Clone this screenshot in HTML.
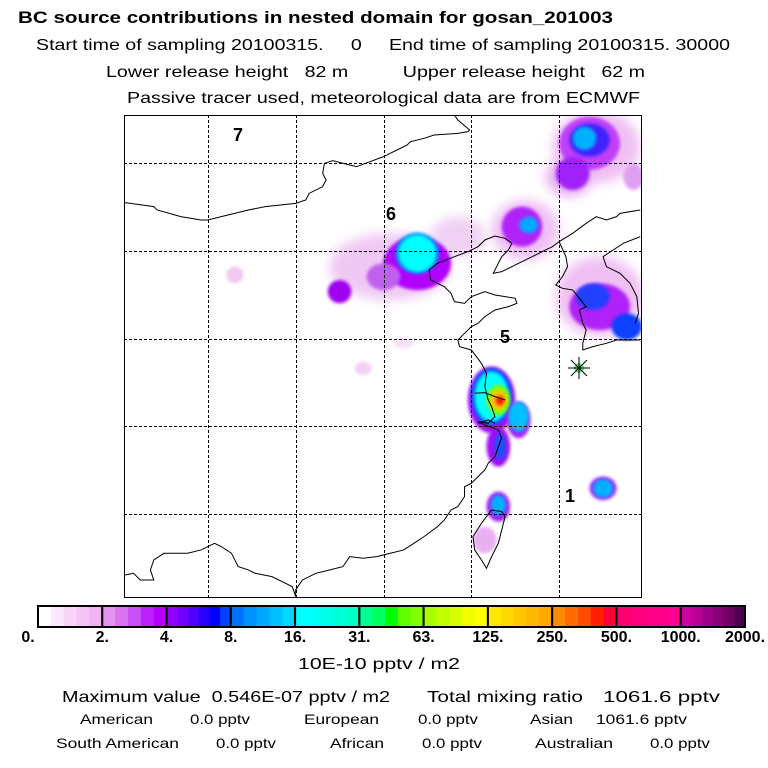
<!DOCTYPE html>
<html><head><meta charset="utf-8"><style>
html,body{margin:0;padding:0;background:#fff}
svg{display:block}
text{font-family:"Liberation Sans",sans-serif;fill:#000}
</style></head><body>
<svg width="768" height="768" viewBox="0 0 768 768" xmlns="http://www.w3.org/2000/svg">
<defs>
<filter id="b1" x="-50%" y="-50%" width="200%" height="200%"><feGaussianBlur stdDeviation="16"/></filter>
<filter id="b2" x="-50%" y="-50%" width="200%" height="200%"><feGaussianBlur stdDeviation="5"/></filter>
<clipPath id="mapclip"><rect x="124" y="115" width="517" height="482"/></clipPath>
</defs>
<g>
<text x="18" y="23" font-size="17" font-weight="bold" textLength="595" lengthAdjust="spacingAndGlyphs">BC  source contributions in nested domain for gosan_201003</text>
<text x="36" y="50" font-size="16" textLength="694" lengthAdjust="spacingAndGlyphs" xml:space="preserve">Start time of sampling 20100315.     0     End time of sampling 20100315. 30000</text>
<text x="106" y="77" font-size="16" textLength="539" lengthAdjust="spacingAndGlyphs" xml:space="preserve">Lower release height   82 m          Upper release height   62 m</text>
<text x="127" y="103" font-size="16" textLength="513" lengthAdjust="spacingAndGlyphs">Passive tracer used, meteorological data are from ECMWF</text>
</g>
<g id="map" clip-path="url(#mapclip)">
<g id="plumes" transform="translate(120,110) scale(0.3378,0.3333)"></g>
<g id="coast" transform="translate(120,110) scale(0.3378,0.3333)" fill="none" stroke="#000" stroke-width="3"></g>
<g id="grid" stroke="#000" stroke-width="1" stroke-dasharray="3,2"></g>
</g>
<rect x="124.5" y="115.5" width="517" height="482" fill="none" stroke="#000" stroke-width="1"/>
<g font-weight="bold" font-size="18">
<text x="233" y="141">7</text>
<text x="386" y="220">6</text>
<text x="500" y="343">5</text>
<text x="565" y="502">1</text>
</g>
<g transform="translate(579,368)" stroke="#000" stroke-width="1">
<path d="M-6,0L0,-6L6,0L0,6Z" fill="#40e080" stroke="none"/>
<path d="M-3.5,0L0,-3.5L3.5,0L0,3.5Z" fill="#c0ff00" stroke="none"/>
<line x1="-11" y1="0" x2="11" y2="0"/><line x1="0" y1="-11" x2="0" y2="11"/>
<line x1="-8" y1="-8" x2="8" y2="8"/><line x1="-8" y1="8" x2="8" y2="-8"/>
</g>
<g id="colorbar"></g>
<g id="cblabels" font-size="16" font-weight="bold" text-anchor="middle"></g>
<g>
<text x="298" y="669" font-size="16" textLength="162" lengthAdjust="spacingAndGlyphs">10E-10 pptv / m2</text>
<text x="62" y="702" font-size="16" textLength="328" lengthAdjust="spacingAndGlyphs" xml:space="preserve">Maximum value  0.546E-07 pptv / m2</text>
<text x="427" y="702" font-size="16" textLength="156" lengthAdjust="spacingAndGlyphs">Total mixing ratio</text>
<text x="603" y="702" font-size="16" textLength="117" lengthAdjust="spacingAndGlyphs">1061.6 pptv</text>
<g font-size="14">
<text x="80" y="724" textLength="73" lengthAdjust="spacingAndGlyphs">American</text>
<text x="190" y="724" textLength="60" lengthAdjust="spacingAndGlyphs">0.0 pptv</text>
<text x="304" y="724" textLength="75" lengthAdjust="spacingAndGlyphs">European</text>
<text x="418" y="724" textLength="60" lengthAdjust="spacingAndGlyphs">0.0 pptv</text>
<text x="530" y="724" textLength="43" lengthAdjust="spacingAndGlyphs">Asian</text>
<text x="596" y="724" textLength="91" lengthAdjust="spacingAndGlyphs">1061.6 pptv</text>
<text x="56" y="748" textLength="123" lengthAdjust="spacingAndGlyphs">South American</text>
<text x="216" y="748" textLength="60" lengthAdjust="spacingAndGlyphs">0.0 pptv</text>
<text x="330" y="748" textLength="54" lengthAdjust="spacingAndGlyphs">African</text>
<text x="422" y="748" textLength="60" lengthAdjust="spacingAndGlyphs">0.0 pptv</text>
<text x="535" y="748" textLength="78" lengthAdjust="spacingAndGlyphs">Australian</text>
<text x="650" y="748" textLength="60" lengthAdjust="spacingAndGlyphs">0.0 pptv</text>
</g>
</g>
</svg>
<script>
const NS="http://www.w3.org/2000/svg";
const tickLabels=["0.","2.","4.","8.","16.","31.","63.","125.","250.","500.","1000.","2000."];
const segmentColors=[
["#ffffff","#fce8fc","#f8d6f8","#f4c4f4","#efb4ef"],
["#e294ee","#d674f2","#c850f6","#bc20fc","#b400ff"],
["#9000ff","#7000ff","#5000ff","#2800ff","#0000ff","#0040ff"],
["#0070ff","#0090ff","#00a8ff","#00c0ff","#00d8ff"],
["#00ffff","#00fff4","#00ffe4","#00ffd4","#00ffc4"],
["#00ff90","#00ff60","#00ff00","#60ff00","#80ff00"],
["#a8ff00","#c0ff00","#d8ff00","#f0ff00","#ffff00"],
["#ffe800","#ffd800","#ffc800","#ffb800","#ffa800"],
["#ff8c00","#ff6c00","#ff4c00","#ff2000","#ff0038"],
["#ff0070","#ff0080","#ff0088","#ff0090"],
["#d000a0","#b80098","#a00088","#880078","#700064","#500050"]];
const gridX=[208,296,384,471,559];
const gridY=[163,251,339,426,514];
// plume blobs in map (zoom) coords
const plumeX=[1410,1330,1520,1390,1340,1390,1375, 800,1000,880,880,880,650,780,340, 1200,1190,1210, 1420,1420,1400,1500, 1100,1100,1100,1120,1120,1125,1180,1180,1120,1125, 1120,1120,1080, 1430,1430, 720,840];
const plumeY=[110,200,200,100,190,90,85, 470,380,460,430,430,545,500,495, 360,350,345, 560,590,560,650, 870,860,860,870,870,872,930,920,1010,1010, 1190,1185,1290, 1135,1135, 775,700];
const plumeRX=[130,70,30,90,50,60,35, 180,80,100,65,55,35,50,25, 100,60,28, 130,90,50,45, 70,60,50,35,25,12,35,30,35,18, 35,22,35, 40,30, 25,30];
const plumeRY=[110,60,40,80,50,50,35, 100,60,80,62,55,35,40,25, 90,60,25, 120,70,40,40, 100,85,75,45,30,14,55,45,60,40, 45,30,40, 35,28, 20,15];
const plumeC=["#f0c0f4","#e8b0f0","#e0a0f0","#c040f8","#a020f8","#4020ff","#00b0ff",
"#f0c8f4","#f0d0f4","#b000ff","#0090ff","#00ffff","#a000f0","#c060f0","#f0c8f0",
"#f0c0f4","#b020f8","#00a8ff",
"#f0c0f4","#b020f8","#2040ff","#1040ff",
"#a010f8","#0060ff","#00ffff","#80ff00","#ffc000","#ff1000","#a020f8","#00c0ff","#a010f8","#2050ff",
"#a020f8","#00b0ff","#e8b0f0",
"#a020f8","#00b0ff",
"#f4d0f4","#f8e0f8"];
const plumeBlur=[1,1,2,2,2,2,2, 1,1,2,2,2,2,2,2, 1,2,2, 1,2,2,2, 2,2,2,2,2,2,2,2,2,2, 2,2,2, 2,2, 2,2];
const coastLines=[
"15,278 100,290 110,300 180,320 240,330 260,330 300,320 380,300 430,290 520,280 550,270 560,250 600,230 610,210 600,190 605,160 630,152 680,165 700,170 740,155 780,140 800,130 820,120 850,105 860,95 900,85 930,75 1000,70 1030,65 1035,60 1000,30 990,15",
"915,480 940,460 990,440 1030,425 1060,410 1080,390 1110,378 1140,385 1160,400 1150,420 1130,440 1120,460 1105,490 1130,485 1160,470 1180,460 1220,440 1260,420 1280,410 1300,395 1340,370 1380,340 1410,320 1440,330 1470,320 1480,310 1540,300",
"915,480 920,510 960,530 980,550 990,575 1020,580 1040,560 1080,545 1110,555 1140,560 1170,565 1175,580 1150,590 1110,600 1080,620 1060,640 1040,650 1020,670 1000,690 1005,710 1040,720 1070,760 1085,790 1080,830 1090,870 1100,890 1110,920 1090,940 1060,935 1080,945 1120,960 1130,985 1120,1010 1110,1040 1090,1060 1080,1080 1060,1100 1040,1120 1020,1130 1020,1160 1000,1190 980,1200 960,1230 940,1250 900,1280 870,1300 840,1320 800,1330 760,1340 720,1345 680,1340 660,1370 620,1380 580,1390 540,1410 520,1440 520,1460",
"520,1460 510,1430 490,1420 450,1400 400,1390 380,1380 350,1370 330,1330 300,1310 280,1300 240,1320 200,1330 160,1330 130,1330 100,1350 90,1380 100,1410 60,1410 40,1390 15,1395",
"1300,395 1320,440 1325,470 1310,500 1290,525 1310,535 1340,540 1380,590 1360,600 1370,640 1380,660 1370,700 1370,720 1400,710 1440,700 1470,690 1500,690 1540,690",
"1540,380 1490,400 1460,420 1430,440 1440,470 1480,490 1510,520 1530,560 1535,610 1525,640",
"1100,1200 1130,1205 1140,1220 1130,1260 1120,1300 1100,1340 1085,1375 1070,1350 1050,1320 1045,1280 1070,1240 1100,1200",
"1050,850 1080,848 1110,860 1140,870","1060,940 1090,930 1110,940"];
const plumes=document.getElementById('plumes');
for(let i=0;i<plumeX.length;i++){
 const e=document.createElementNS(NS,'ellipse');
 
 
 e.setAttribute('cx',plumeX[i]);e.setAttribute('cy',plumeY[i]);
 e.setAttribute('rx',plumeRX[i]);e.setAttribute('ry',plumeRY[i]);
 e.setAttribute('fill',plumeC[i]);
 e.setAttribute('filter',plumeBlur[i]===1?'url(#b1)':'url(#b2)');
 plumes.appendChild(e);
}
const coast=document.getElementById('coast');
coastLines.forEach(p=>{
 const l=document.createElementNS(NS,'polyline');
 
 
 l.setAttribute('points',p);coast.appendChild(l);
});
const grid=document.getElementById('grid');
gridX.forEach(x=>{const l=document.createElementNS(NS,'line');
 
 
 l.setAttribute('x1',x+.5);l.setAttribute('x2',x+.5);l.setAttribute('y1',115);l.setAttribute('y2',597);grid.appendChild(l);});
gridY.forEach(y=>{const l=document.createElementNS(NS,'line');
 
 
 l.setAttribute('y1',y+.5);l.setAttribute('y2',y+.5);l.setAttribute('x1',124);l.setAttribute('x2',641);grid.appendChild(l);});
const cb=document.getElementById('colorbar'),cbl=document.getElementById('cblabels');
const X0=38,X1=745,Y0=606,H=21,segW=(X1-X0)/segmentColors.length;
segmentColors.forEach((cols,s)=>{
 const sw=segW/cols.length;
 cols.forEach((c,k)=>{const r=document.createElementNS(NS,'rect');
  
  
  r.setAttribute('x',X0+s*segW+k*sw);r.setAttribute('y',Y0);r.setAttribute('width',sw+0.6);r.setAttribute('height',H);r.setAttribute('fill',c);cb.appendChild(r);});
 const b=document.createElementNS(NS,'rect');
 
 
 b.setAttribute('x',X0+s*segW);b.setAttribute('y',Y0);b.setAttribute('width',segW);b.setAttribute('height',H);
 b.setAttribute('fill','none');b.setAttribute('stroke','#000');b.setAttribute('stroke-width','2');cb.appendChild(b);
});
tickLabels.forEach((t,i)=>{const tx=document.createElementNS(NS,'text');
 
 
 tx.setAttribute('x',X0+i*segW-(i===0?10:0));tx.setAttribute('y',642);tx.textContent=t;cbl.appendChild(tx);});
</script>
</body></html>
